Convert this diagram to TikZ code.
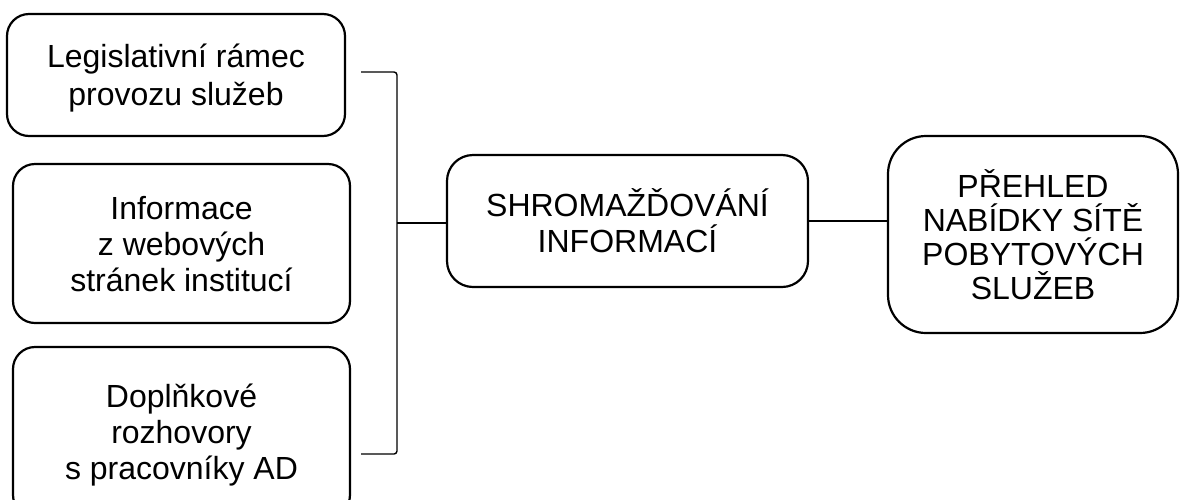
\documentclass[tikz,border=0pt]{standalone}
\usepackage{fontspec}
\setmainfont{Liberation Sans}
\tikzset{
  stage/.style={draw, line width=2.2pt, rounded corners=22pt, align=center,
    font=\fontsize{32}{36}\selectfont, inner sep=0pt, text depth=-3pt},
  joint/.style={line width=1.4pt}
}
\begin{document}
\begin{tikzpicture}[x=1pt,y=-1pt]
    \useasboundingbox (0,0) rectangle (1180,499);

    \node[stage, minimum width=338pt, minimum height=122pt, font=\fontsize{32}{38}\selectfont] (legis) at (176,75) {Legislativní rámec\\provozu služeb};
    \node[stage, minimum width=337pt, minimum height=159pt] (web) at (181.5,243.5) {Informace\\z webových\\stránek institucí};
    \node[stage, minimum width=337pt, minimum height=170pt] (rozhovory) at (181.5,432) {Doplňkové\\rozhovory\\s pracovníky AD};

    \node[stage, minimum width=361pt, minimum height=132pt, rounded corners=26pt] (sber) at (627.5,221) {SHROMAŽĎOVÁNÍ\\INFORMACÍ};
    \node[stage, minimum width=290pt, minimum height=197pt, rounded corners=38pt, font=\fontsize{32}{34}\selectfont] (prehled) at (1033,234.5) {PŘEHLED\\NABÍDKY SÍTĚ\\POBYTOVÝCH\\SLUŽEB};

    % bracket
    \coordinate (b1) at (361,72);
    \coordinate (b2) at (361,454);
    \coordinate (bm) at (397,223);
    \draw[joint, rounded corners=3pt] (b1) -- (bm |- b1) -- (bm |- b2) -- (b2);
    \draw[joint] (bm) -- (sber.west |- bm);

    \draw[joint] (sber.east) -- (prehled.west |- sber.east);

\end{tikzpicture}
\end{document}
